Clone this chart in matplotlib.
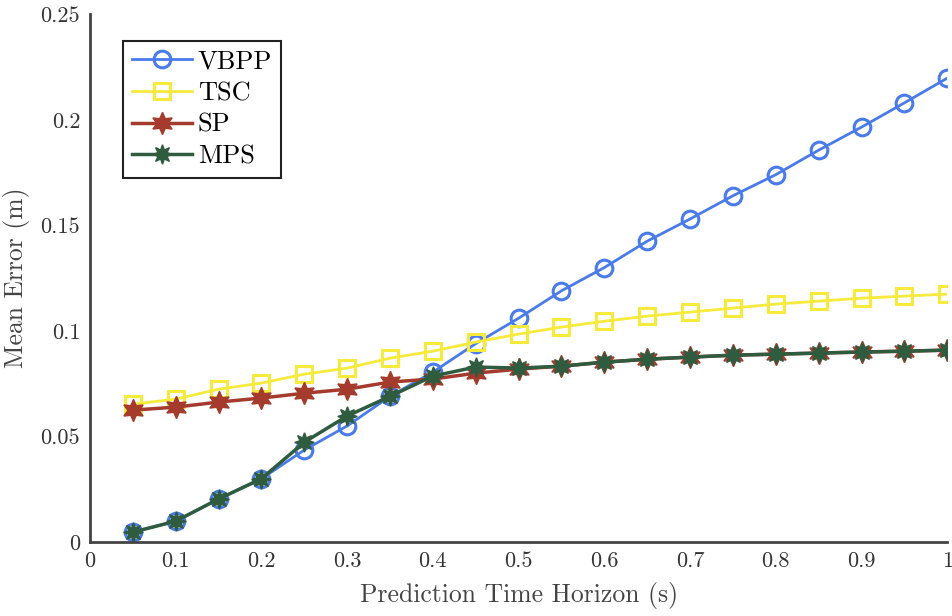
import numpy as np
import matplotlib
matplotlib.use("Agg")
import matplotlib.pyplot as plt

# prediction horizons (s)
horizon = [0.05, 0.1, 0.15, 0.2, 0.25, 0.3, 0.35, 0.4, 0.45, 0.5,
           0.55, 0.6, 0.65, 0.7, 0.75, 0.8, 0.85, 0.9, 0.95, 1.0]

vbpp = [0.0047, 0.0099, 0.0204, 0.0300, 0.0436, 0.0550, 0.0690, 0.0805, 0.0940, 0.1060,
        0.1190, 0.1300, 0.1425, 0.1530, 0.1640, 0.1740, 0.1856, 0.1965, 0.2080, 0.2197]
tsc = [0.0653, 0.0677, 0.0724, 0.0753, 0.0795, 0.0824, 0.0871, 0.0904, 0.0947, 0.0985,
       0.1018, 0.1046, 0.1070, 0.1089, 0.1108, 0.1127, 0.1141, 0.1155, 0.1165, 0.1174]
sp = [0.0625, 0.0639, 0.0663, 0.0682, 0.0705, 0.0724, 0.0758, 0.0772, 0.0800, 0.0819,
      0.0833, 0.0852, 0.0866, 0.0876, 0.0885, 0.0890, 0.0895, 0.0900, 0.0904, 0.0909]
mps = [0.0047, 0.0099, 0.0204, 0.0300, 0.0473, 0.0597, 0.0690, 0.0786, 0.0829, 0.0824,
       0.0833, 0.0852, 0.0866, 0.0876, 0.0885, 0.0890, 0.0895, 0.0900, 0.0904, 0.0909]

plt.rcParams['font.family'] = ['cmr10', 'DejaVu Serif']
plt.rcParams['axes.formatter.use_mathtext'] = True
plt.rcParams['mathtext.fontset'] = 'cm'

fig = plt.figure(figsize=(9.52, 6.16), dpi=100)
ax = fig.add_axes([0.0945, 0.12, 0.9005, 0.857])

ax.plot(horizon, vbpp, color='#4a7bea', lw=2, marker='o', ms=12, mfc='none', mew=2.2, label='VBPP')
ax.plot(horizon, tsc, color='#f6ea3c', lw=2, marker='s', ms=11, mfc='none', mew=2.2, label='TSC')
ax.plot(horizon, sp, color='#a53b2c', lw=2.5, marker=(6, 1, 0), ms=16, mfc='#a53b2c', mec='#a53b2c', label='SP')
ax.plot(horizon, mps, color='#2f5b3f', lw=2.5, marker=(8, 1, 0), ms=14, mfc='#2f5b3f', mec='#2f5b3f', label='MPS')

ax.set_xlim(0, 1)
ax.set_ylim(0, 0.25)
ax.set_xticks(np.arange(0, 1.01, 0.1))
ax.set_xticklabels(['0', '0.1', '0.2', '0.3', '0.4', '0.5', '0.6', '0.7', '0.8', '0.9', '1'])
ax.set_yticks([0, 0.05, 0.1, 0.15, 0.2, 0.25])
ax.set_yticklabels(['0', '0.05', '0.1', '0.15', '0.2', '0.25'])
ax.tick_params(direction='in', length=0, labelsize=16, colors='#333333', pad=7)

for s in ['top', 'right']:
    ax.spines[s].set_visible(False)
for s in ['left', 'bottom']:
    ax.spines[s].set_linewidth(2)
    ax.spines[s].set_color('#444444')

ax.set_xlabel('Prediction Time Horizon (s)', fontsize=18.5, color='#444444', labelpad=8)
ax.set_ylabel('Mean Error (m)', fontsize=18.5, color='#444444', labelpad=8)

leg = ax.legend(loc='upper left', bbox_to_anchor=(0.038, 0.95), fontsize=19, fancybox=False,
                edgecolor='#222222', framealpha=1, handlelength=2.3, borderpad=0.35,
                labelspacing=0.3, handletextpad=0.2, borderaxespad=0)
leg.get_frame().set_linewidth(1.5)

fig.savefig('out.png', dpi=100)
